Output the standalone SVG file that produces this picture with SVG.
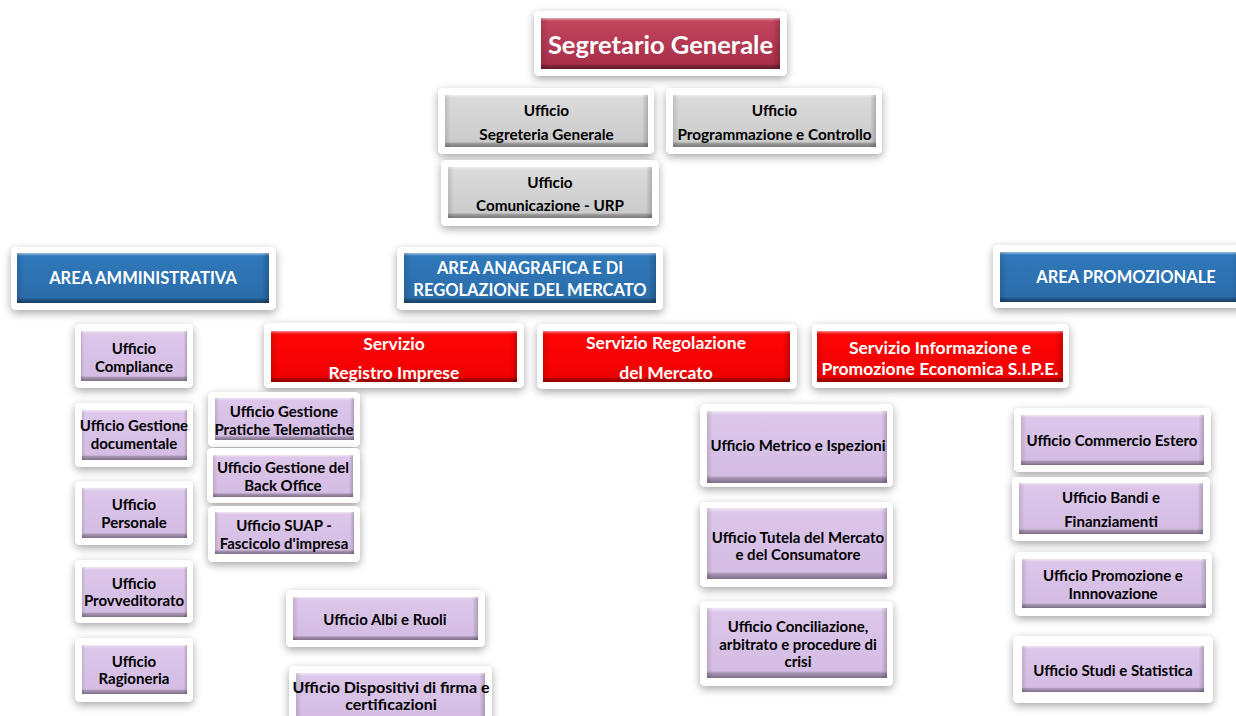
<svg xmlns="http://www.w3.org/2000/svg" width="1236" height="716" viewBox="0 0 1236 716">
<defs>
<filter id="sh" x="-20%" y="-30%" width="140%" height="160%">
<feDropShadow dx="0" dy="3" stdDeviation="4" flood-color="#000" flood-opacity="0.35"/>
</filter>
<linearGradient id="gCrim" x1="0" y1="0" x2="0" y2="1"><stop offset="0" stop-color="#c4465f"/><stop offset="1" stop-color="#a52d47"/></linearGradient>
<linearGradient id="gGrey" x1="0" y1="0" x2="0" y2="1"><stop offset="0" stop-color="#dcdcdc"/><stop offset="1" stop-color="#c9c9c9"/></linearGradient>
<linearGradient id="gBlue" x1="0" y1="0" x2="0" y2="1"><stop offset="0" stop-color="#3079bb"/><stop offset="1" stop-color="#2a6ba8"/></linearGradient>
<linearGradient id="gRed" x1="0" y1="0" x2="0" y2="1"><stop offset="0" stop-color="#ff0606"/><stop offset="1" stop-color="#f00000"/></linearGradient>
<linearGradient id="gPur" x1="0" y1="0" x2="0" y2="1"><stop offset="0" stop-color="#ddc7ea"/><stop offset="1" stop-color="#d3bbe2"/></linearGradient>
<linearGradient id="bevV" x1="0" y1="0" x2="0" y2="1"><stop offset="0" stop-color="#fff" stop-opacity="0.55"/><stop offset="0.06" stop-color="#fff" stop-opacity="0"/><stop offset="0.9" stop-color="#000" stop-opacity="0"/><stop offset="0.93" stop-color="#000" stop-opacity="0.22"/><stop offset="1" stop-color="#000" stop-opacity="0.4"/></linearGradient>
<linearGradient id="bevH" x1="0" y1="0" x2="1" y2="0"><stop offset="0" stop-color="#000" stop-opacity="0.12"/><stop offset="0.03" stop-color="#000" stop-opacity="0"/><stop offset="0.97" stop-color="#000" stop-opacity="0"/><stop offset="1" stop-color="#000" stop-opacity="0.2"/></linearGradient>
</defs>
<style>
.fr{fill:#fff;filter:url(#sh)}
.crim{fill:url(#gCrim)}
.grey{fill:url(#gGrey)}
.blue{fill:url(#gBlue)}
.red{fill:url(#gRed)}
.pur{fill:url(#gPur)}
.bv{fill:url(#bevV)}
.bh{fill:url(#bevH)}
text{font-family:Lato,"Open Sans","Liberation Sans",sans-serif;font-weight:bold;text-anchor:middle;dominant-baseline:central}
.tw{fill:#fff}
.tb{fill:#000}
.s24{font-size:25.5px}
.s16{font-size:17.5px}
.s15{font-size:16.5px}
.s14{font-size:15px}
.sg{font-size:15.3px}
.sd{font-size:16px}
</style>
<rect width="1236" height="716" fill="#fff"/>
<g id="connectors"></g>

<g id="segretario-generale">
<rect class="fr" x="534" y="11" width="253" height="65" rx="5"/>
<rect class="crim" x="541" y="18" width="239" height="51"/><rect class="bv" x="541" y="18" width="239" height="51"/><rect class="bh" x="541" y="18" width="239" height="51"/>
<text class="tw s24" x="660.5" y="44">Segretario Generale</text>
</g>

<g id="uff-segreteria">
<rect class="fr" x="438" y="88" width="216" height="66" rx="5"/>
<rect class="grey" x="445" y="95" width="203" height="52"/><rect class="bv" x="445" y="95" width="203" height="52"/><rect class="bh" x="445" y="95" width="203" height="52"/>
<text class="tb sg" x="546.5" y="110">Ufficio</text><text class="tb sg" x="546.5" y="134">Segreteria Generale</text>
</g>

<g id="uff-programmazione">
<rect class="fr" x="666" y="88" width="216" height="66" rx="5"/>
<rect class="grey" x="673" y="95" width="203" height="52"/><rect class="bv" x="673" y="95" width="203" height="52"/><rect class="bh" x="673" y="95" width="203" height="52"/>
<text class="tb sg" x="774.5" y="110">Ufficio</text><text class="tb sg" x="774.5" y="134">Programmazione e Controllo</text>
</g>

<g id="uff-comunicazione">
<rect class="fr" x="441" y="160" width="218" height="66" rx="5"/>
<rect class="grey" x="448" y="167" width="204" height="51"/><rect class="bv" x="448" y="167" width="204" height="51"/><rect class="bh" x="448" y="167" width="204" height="51"/>
<text class="tb sg" x="550" y="182">Ufficio</text><text class="tb sg" x="550" y="205">Comunicazione - URP</text>
</g>

<g id="area-amministrativa">
<rect class="fr" x="11" y="247" width="265" height="63" rx="5"/>
<rect class="blue" x="17" y="253" width="252" height="50"/><rect class="bv" x="17" y="253" width="252" height="50"/><rect class="bh" x="17" y="253" width="252" height="50"/>
<text class="tw s15" x="143" y="278">AREA AMMINISTRATIVA</text>
</g>

<g id="area-anagrafica">
<rect class="fr" x="397" y="247" width="266" height="63" rx="5"/>
<rect class="blue" x="404" y="253" width="252" height="50"/><rect class="bv" x="404" y="253" width="252" height="50"/><rect class="bh" x="404" y="253" width="252" height="50"/>
<text class="tw s15" x="530" y="268">AREA ANAGRAFICA E DI</text><text class="tw s15" x="530" y="290">REGOLAZIONE DEL MERCATO</text>
</g>

<g id="area-promozionale">
<rect class="fr" x="993" y="245" width="250" height="63" rx="5"/>
<rect class="blue" x="1000" y="252" width="240" height="50"/><rect class="bv" x="1000" y="252" width="240" height="50"/><rect class="bh" x="1000" y="252" width="240" height="50"/>
<text class="tw s15" x="1126" y="277">AREA PROMOZIONALE</text>
</g>

<g id="servizio-registro-imprese">
<rect class="fr" x="264" y="323" width="260" height="65" rx="5"/>
<rect class="red" x="271" y="331" width="246" height="51"/><rect class="bv" x="271" y="331" width="246" height="51"/><rect class="bh" x="271" y="331" width="246" height="51"/>
<text class="tw s16" x="394" y="343">Servizio</text><text class="tw s16" x="394" y="372">Registro Imprese</text>
</g>

<g id="servizio-regolazione">
<rect class="fr" x="537" y="324" width="260" height="65" rx="5"/>
<rect class="red" x="543" y="331" width="247" height="51"/><rect class="bv" x="543" y="331" width="247" height="51"/><rect class="bh" x="543" y="331" width="247" height="51"/>
<text class="tw s16" x="666" y="342">Servizio Regolazione</text><text class="tw s16" x="666" y="372">del Mercato</text>
</g>

<g id="servizio-informazione">
<rect class="fr" x="812" y="324" width="257" height="64" rx="5"/>
<rect class="red" x="817" y="331" width="246" height="51"/><rect class="bv" x="817" y="331" width="246" height="51"/><rect class="bh" x="817" y="331" width="246" height="51"/>
<text class="tw s16" x="940" y="347">Servizio Informazione e</text><text class="tw s16" x="940" y="368">Promozione Economica S.I.P.E.</text>
</g>

<g id="uff-compliance">
<rect class="fr" x="75" y="324" width="118" height="64" rx="5"/>
<rect class="pur" x="81" y="331" width="106" height="50"/><rect class="bv" x="81" y="331" width="106" height="50"/><rect class="bh" x="81" y="331" width="106" height="50"/>
<text class="tb s14" x="134" y="348">Ufficio</text><text class="tb s14" x="134" y="366">Compliance</text>
</g>

<g id="uff-gestione-documentale">
<rect class="fr" x="75" y="403" width="118" height="64" rx="5"/>
<rect class="pur" x="82" y="410" width="105" height="50"/><rect class="bv" x="82" y="410" width="105" height="50"/><rect class="bh" x="82" y="410" width="105" height="50"/>
<text class="tb s14" x="134" y="425">Ufficio Gestione</text><text class="tb s14" x="134" y="443">documentale</text>
</g>

<g id="uff-personale">
<rect class="fr" x="75" y="481" width="118" height="64" rx="5"/>
<rect class="pur" x="82" y="488" width="105" height="50"/><rect class="bv" x="82" y="488" width="105" height="50"/><rect class="bh" x="82" y="488" width="105" height="50"/>
<text class="tb s14" x="134" y="504">Ufficio</text><text class="tb s14" x="134" y="522">Personale</text>
</g>

<g id="uff-provveditorato">
<rect class="fr" x="75" y="560" width="118" height="63" rx="5"/>
<rect class="pur" x="82" y="567" width="105" height="50"/><rect class="bv" x="82" y="567" width="105" height="50"/><rect class="bh" x="82" y="567" width="105" height="50"/>
<text class="tb s14" x="134" y="583">Ufficio</text><text class="tb s14" x="134" y="600">Provveditorato</text>
</g>

<g id="uff-ragioneria">
<rect class="fr" x="75" y="638" width="118" height="64" rx="5"/>
<rect class="pur" x="82" y="645" width="105" height="49"/><rect class="bv" x="82" y="645" width="105" height="49"/><rect class="bh" x="82" y="645" width="105" height="49"/>
<text class="tb s14" x="134" y="661">Ufficio</text><text class="tb s14" x="134" y="678">Ragioneria</text>
</g>

<g id="uff-pratiche-telematiche">
<rect class="fr" x="208" y="392" width="152" height="55" rx="5"/>
<rect class="pur" x="215" y="398" width="139" height="42"/><rect class="bv" x="215" y="398" width="139" height="42"/><rect class="bh" x="215" y="398" width="139" height="42"/>
<text class="tb s14" x="284" y="411">Ufficio Gestione</text><text class="tb s14" x="284" y="429">Pratiche Telematiche</text>
</g>

<g id="uff-back-office">
<rect class="fr" x="207" y="448" width="153" height="55" rx="5"/>
<rect class="pur" x="213" y="455" width="140" height="42"/><rect class="bv" x="213" y="455" width="140" height="42"/><rect class="bh" x="213" y="455" width="140" height="42"/>
<text class="tb s14" x="283" y="467">Ufficio Gestione del</text><text class="tb s14" x="283" y="485">Back Office</text>
</g>

<g id="uff-suap">
<rect class="fr" x="208" y="506" width="152" height="56" rx="5"/>
<rect class="pur" x="215" y="512" width="139" height="42"/><rect class="bv" x="215" y="512" width="139" height="42"/><rect class="bh" x="215" y="512" width="139" height="42"/>
<text class="tb s14" x="284" y="525">Ufficio SUAP -</text><text class="tb s14" x="284" y="543">Fascicolo d'impresa</text>
</g>

<g id="uff-albi-ruoli">
<rect class="fr" x="286" y="590" width="199" height="57" rx="5"/>
<rect class="pur" x="293" y="597" width="185" height="43"/><rect class="bv" x="293" y="597" width="185" height="43"/><rect class="bh" x="293" y="597" width="185" height="43"/>
<text class="tb s14" x="385" y="619">Ufficio Albi e Ruoli</text>
</g>

<g id="uff-dispositivi-firma">
<rect class="fr" x="289" y="666" width="203" height="62" rx="5"/>
<rect class="pur" x="296" y="673" width="189" height="50"/><rect class="bv" x="296" y="673" width="189" height="50"/><rect class="bh" x="296" y="673" width="189" height="50"/>
<text class="tb sd" x="391" y="686">Ufficio Dispositivi di firma e</text><text class="tb sd" x="391" y="703">certificazioni</text>
</g>

<g id="uff-metrico">
<rect class="fr" x="700" y="404" width="193" height="83" rx="5"/>
<rect class="pur" x="707" y="411" width="180" height="72"/><rect class="bv" x="707" y="411" width="180" height="72"/><rect class="bh" x="707" y="411" width="180" height="72"/>
<text class="tb s14" x="798" y="445">Ufficio Metrico e Ispezioni</text>
</g>

<g id="uff-tutela">
<rect class="fr" x="700" y="502" width="193" height="85" rx="5"/>
<rect class="pur" x="707" y="508" width="180" height="71"/><rect class="bv" x="707" y="508" width="180" height="71"/><rect class="bh" x="707" y="508" width="180" height="71"/>
<text class="tb s14" x="798" y="537">Ufficio Tutela del Mercato</text><text class="tb s14" x="798" y="554">e del Consumatore</text>
</g>

<g id="uff-conciliazione">
<rect class="fr" x="700" y="601" width="193" height="85" rx="5"/>
<rect class="pur" x="707" y="608" width="180" height="70"/><rect class="bv" x="707" y="608" width="180" height="70"/><rect class="bh" x="707" y="608" width="180" height="70"/>
<text class="tb s14" x="798" y="626">Ufficio Conciliazione,</text><text class="tb s14" x="798" y="644">arbitrato e procedure di</text><text class="tb s14" x="798" y="661">crisi</text>
</g>

<g id="uff-commercio-estero">
<rect class="fr" x="1014" y="408" width="197" height="64" rx="5"/>
<rect class="pur" x="1021" y="415" width="183" height="50"/><rect class="bv" x="1021" y="415" width="183" height="50"/><rect class="bh" x="1021" y="415" width="183" height="50"/>
<text class="tb s14" x="1112" y="440">Ufficio Commercio Estero</text>
</g>

<g id="uff-bandi">
<rect class="fr" x="1012" y="477" width="198" height="64" rx="5"/>
<rect class="pur" x="1019" y="483" width="184" height="51"/><rect class="bv" x="1019" y="483" width="184" height="51"/><rect class="bh" x="1019" y="483" width="184" height="51"/>
<text class="tb s14" x="1111" y="497">Ufficio Bandi e</text><text class="tb s14" x="1111" y="521">Finanziamenti</text>
</g>

<g id="uff-promozione">
<rect class="fr" x="1015" y="552" width="197" height="64" rx="5"/>
<rect class="pur" x="1022" y="559" width="184" height="49"/><rect class="bv" x="1022" y="559" width="184" height="49"/><rect class="bh" x="1022" y="559" width="184" height="49"/>
<text class="tb s14" x="1113" y="575">Ufficio Promozione e</text><text class="tb s14" x="1113" y="593">Innnovazione</text>
</g>

<g id="uff-studi">
<rect class="fr" x="1013" y="636" width="200" height="67" rx="5"/>
<rect class="pur" x="1022" y="646" width="182" height="46"/><rect class="bv" x="1022" y="646" width="182" height="46"/><rect class="bh" x="1022" y="646" width="182" height="46"/>
<text class="tb s14" x="1113" y="670">Ufficio Studi e Statistica</text>
</g>
</svg>
